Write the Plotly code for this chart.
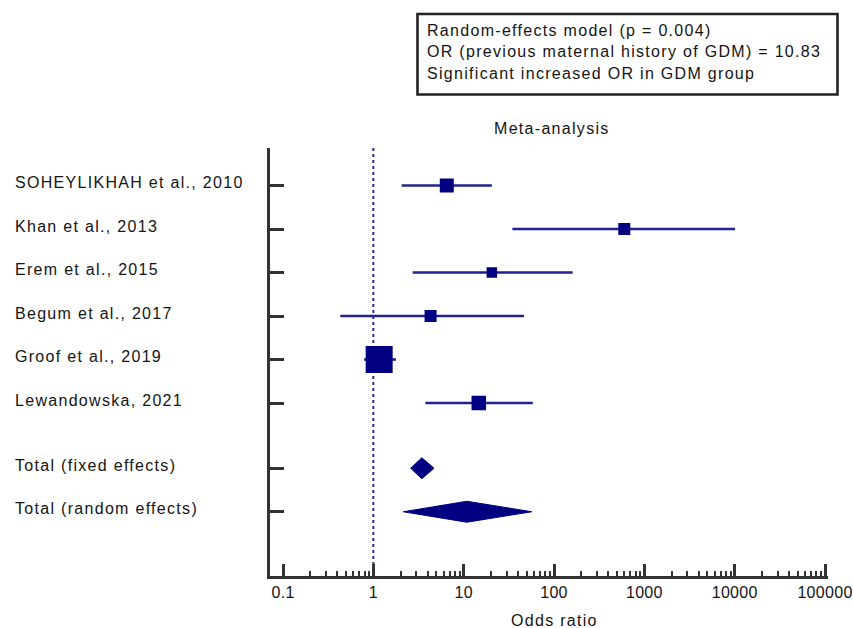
import plotly.graph_objects as go

# ---------------- data ----------------
studies = ["SOHEYLIKHAH et al., 2010", "Khan et al., 2013", "Erem et al., 2015",
           "Begum et al., 2017", "Groof et al., 2019", "Lewandowska, 2021"]
odds_ratio = [6.5, 600, 20.5, 4.3, 1.16, 14.7]
ci_lower = [2.06, 34.6, 2.73, 0.43, 0.79, 3.77]
ci_upper = [20.5, 10100, 161, 46.6, 1.78, 58.2]
marker_px = [14, 12, 10.5, 12, 27, 14.5]

total_labels = ["Total (fixed effects)", "Total (random effects)"]
total_or = [3.44, 10.83]
total_lower = [2.59, 2.15]
total_upper = [4.7, 56.8]

x_tick_vals = [0.1, 1, 10, 100, 1000, 10000, 100000]
x_tick_text = ["0.1", "1", "10", "100", "1000", "10000", "100000"]

box_lines = ["Random-effects model (p = 0.004)",
             "OR (previous maternal history of GDM) = 10.83",
             "Significant increased OR in GDM group"]

# ---------------- style ----------------
NAVY = "#000080"
LINE = "#23238f"
AXIS = "#333333"
TXT = "#141414"
FONT = "Liberation Sans, Arial, sans-serif"
FS = 16
SPACING = 1.3


def ls(text, px=SPACING):
    return f'<span style="letter-spacing:{px}px">{text}</span>'


W, H = 853, 628
L, R, T, B = 270, 25, 148, 52
pw, ph = W - L - R, H - T - B


def px_x(p):
    return (p - L) / pw


def px_y(p):
    return (H - B - p) / ph


n = len(studies)
y_study = list(range(n))
y_totals = [n + 0.5, n + 1.5]
y_range = [8.977, -0.862]
x_range = [-1.144, 5.033]

# minor ticks 2..9 of each decade
minor_vals = [d * 10 ** e for e in range(-1, 5) for d in range(2, 10)]

fig = go.Figure()

# reference line at OR = 1
fig.add_trace(go.Scatter(x=[1, 1], y=[y_range[1], y_range[0]], mode="lines",
                         line=dict(color="#2b2b9a", width=2, dash="3px,3px"),
                         hoverinfo="skip", showlegend=False))

# confidence intervals
cx, cy = [], []
for lo, hi, y in zip(ci_lower, ci_upper, y_study):
    cx += [lo, hi, None]
    cy += [y, y, None]
fig.add_trace(go.Scatter(x=cx, y=cy, mode="lines", line=dict(color=LINE, width=2.6),
                         hoverinfo="skip", showlegend=False))

# study squares
fig.add_trace(go.Scatter(x=odds_ratio, y=y_study, mode="markers",
                         marker=dict(symbol="square", size=marker_px, color=NAVY,
                                     opacity=1, line=dict(width=0)),
                         showlegend=False))

# diamonds for totals
half_h = 0.241
for o, lo, hi, y in zip(total_or, total_lower, total_upper, y_totals):
    fig.add_trace(go.Scatter(x=[lo, o, hi, o, lo], y=[y, y - half_h, y, y + half_h, y],
                             mode="lines", fill="toself", fillcolor=NAVY,
                             line=dict(color=NAVY, width=1), hoverinfo="skip",
                             showlegend=False))

annotations = []
# row labels (left aligned)
for lab, y in zip(studies + total_labels, y_study + y_totals):
    annotations.append(dict(text=ls(lab), x=px_x(13), xref="paper", y=y, yref="y",
                            xanchor="left", yanchor="middle", yshift=3, showarrow=False,
                            font=dict(family=FONT, size=FS, color=TXT)))

# title
annotations.append(dict(text=ls("Meta-analysis"), x=px_x(551.5), y=px_y(128), xref="paper",
                        yref="paper", xanchor="center", yanchor="middle", showarrow=False,
                        font=dict(family=FONT, size=FS, color=TXT)))

# x axis title
annotations.append(dict(text=ls("Odds ratio"), x=px_x(554.5), y=px_y(620), xref="paper",
                        yref="paper", xanchor="center", yanchor="middle", showarrow=False,
                        font=dict(family=FONT, size=FS, color=TXT)))

# text box lines
for i, line in enumerate(box_lines):
    annotations.append(dict(text=ls(line), x=px_x(425), y=px_y(30 + 22 * i), xref="paper",
                            yref="paper", xanchor="left", yanchor="middle", showarrow=False,
                            font=dict(family=FONT, size=FS, color=TXT)))

shapes = [dict(type="rect", xref="paper", yref="paper",
               x0=px_x(417.5), x1=px_x(837.5), y0=px_y(94.5), y1=px_y(14),
               line=dict(color="#222222", width=2.6), fillcolor="rgba(0,0,0,0)")]

fig.update_layout(
    width=W, height=H, autosize=False,
    margin=dict(l=L, r=R, t=T, b=B, pad=0, autoexpand=False),
    paper_bgcolor="white", plot_bgcolor="white",
    font=dict(family=FONT, size=FS, color=TXT),
    annotations=annotations, shapes=shapes,
    xaxis=dict(type="log", range=x_range, automargin=False,
               tickmode="array", tickvals=x_tick_vals,
               ticktext=[ls(t, 0.3) for t in x_tick_text],
               ticks="inside", ticklen=12, tickwidth=2.5, tickcolor=AXIS,
               ticklabelstandoff=0,
               minor=dict(tickmode="array", tickvals=minor_vals, ticks="inside",
                          ticklen=5, tickwidth=1.5, tickcolor=AXIS, showgrid=False),
               showline=True, linecolor=AXIS, linewidth=3, showgrid=False, zeroline=False,
               tickfont=dict(family=FONT, size=FS, color=TXT)),
    yaxis=dict(range=y_range, automargin=False, tickmode="array", tickvals=y_study + y_totals,
               ticktext=[""] * (n + 2), ticks="inside", ticklen=14, tickwidth=2.5,
               tickcolor=AXIS, showline=True, linecolor=AXIS, linewidth=3,
               showgrid=False, zeroline=False),
)

fig.write_html("out.html",
               config={"responsive": False, "displayModeBar": False},
               post_script="document.body.style.margin='0';document.body.style.overflow='hidden';")
